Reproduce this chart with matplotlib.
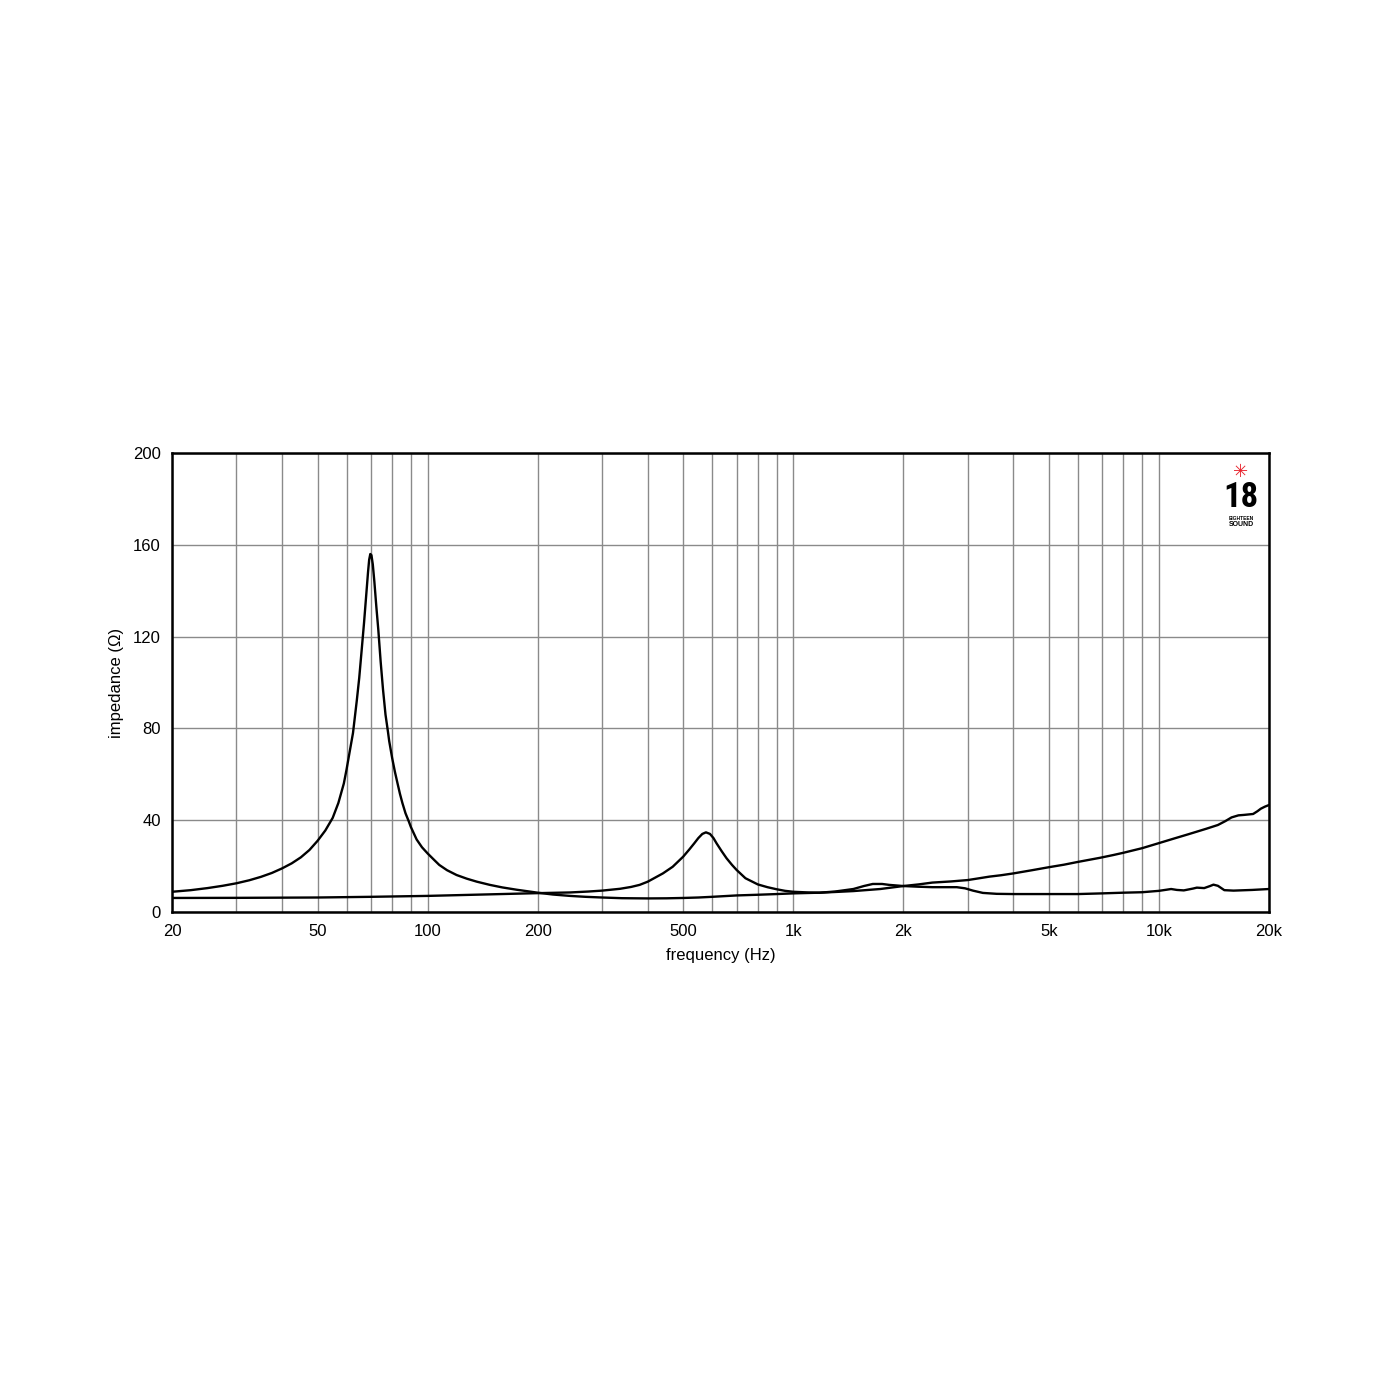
"""Impedance curves, 18 Sound style chart (log frequency axis)."""
import numpy as np
import matplotlib.pyplot as plt
from matplotlib.ticker import FixedLocator, NullFormatter

# curve with the low-frequency resonance (woofer-like)
freq_a = [20, 22.5, 25, 27.5, 30, 32.5, 35, 37.5, 40, 42.5, 45, 47.5, 50,
          52.5, 55, 57, 59, 60, 61, 62.5, 64, 65, 66, 67, 68, 68.7, 69.2,
          69.7, 70.2, 70.8, 71.5, 72.4, 73.3, 74.4, 75.5, 76.7, 77.9, 78.5,
          80, 81.4, 82.8, 84, 85.3, 87, 88.7, 90, 93.3, 96.5, 100, 104,
          107.6, 113, 120, 128, 136.3, 148, 160, 175, 190, 200, 220, 245,
          270, 300, 340, 400, 450, 500, 550, 600, 700, 800, 900, 1000, 1180,
          1300, 1460, 1730, 2000, 2200, 2400, 2700, 3000, 3200, 3440, 3700,
          4000, 4500, 5000, 5500, 6000, 6900, 7500, 8000, 9000, 10000, 11000,
          12000, 12700, 13500, 14500, 15200, 15800, 16500, 17100, 18100,
          18600, 19000, 19500, 20000]
imp_a = [8.8, 9.5, 10.4, 11.4, 12.5, 13.8, 15.3, 17.0, 19.0, 21.2, 23.8, 27.0,
         31.0, 35.5, 41.0, 47.5, 56, 62, 68.5, 78, 92, 102, 114, 126, 139,
         148, 153.5, 156, 155.5, 151.5, 144, 133, 123, 109, 97, 86, 78.5, 74.5,
         67.0, 61.0, 55.8, 51.5, 47.5, 43.0, 39.7, 37.0, 31.6, 28.2, 25.5,
         22.8, 20.5, 18.2, 16.1, 14.5, 13.2, 11.8, 10.7, 9.7, 8.9, 8.4, 7.6,
         7.0, 6.6, 6.3, 6.0, 5.9, 5.95, 6.1, 6.3, 6.6, 7.2, 7.5, 7.8, 8.1,
         8.4, 8.7, 9.1, 10.0, 11.3, 12.0, 12.8, 13.3, 13.9, 14.6, 15.4, 16.0,
         16.8, 18.2, 19.5, 20.6, 21.8, 23.6, 24.8, 25.8, 27.8, 30.0, 32.0,
         33.8, 35.0, 36.3, 37.9, 39.6, 41.2, 42.1, 42.3, 42.7, 43.9, 45.0,
         45.9, 46.6]

# curve with the mid resonance near 580 Hz
freq_b = [20, 30, 50, 70, 100, 150, 200, 245, 275, 300, 336, 360, 380, 400,
          440, 468, 500, 520, 536, 550, 564, 577, 592, 605, 617, 637, 657,
          680, 700, 740, 800, 850, 900, 950, 1000, 1100, 1180, 1300, 1460,
          1560, 1650, 1750, 1830, 2000, 2200, 2400, 2800, 2950, 3100, 3300,
          3600, 4000, 5000, 6000, 7000, 8000, 9000, 10000, 10500, 10800,
          11200, 11700, 12400, 12700, 13300, 13800, 14100, 14500, 15100,
          16000, 18000, 20000]
imp_b = [6.1, 6.15, 6.3, 6.6, 7.0, 7.7, 8.2, 8.5, 8.9, 9.3, 10.1, 10.9, 11.8,
         13.2, 16.8, 19.7, 24.1, 27.3, 29.9, 32.2, 34.0, 34.7, 34.0, 32.2,
         29.9, 26.5, 23.4, 20.5, 18.3, 14.7, 12.0, 10.8, 9.9, 9.2, 8.8, 8.5,
         8.4, 8.9, 10.0, 11.3, 12.2, 12.2, 11.8, 11.3, 11.0, 10.8, 10.8,
         10.3, 9.3, 8.3, 7.9, 7.8, 7.8, 7.8, 8.1, 8.4, 8.6, 9.2, 9.7, 10.0,
         9.6, 9.4, 10.2, 10.6, 10.4, 11.3, 11.9, 11.4, 9.5, 9.3, 9.6, 10.0]

x_ticks = [20, 50, 100, 200, 500, 1000, 2000, 5000, 10000, 20000]
x_labels = ["20", "50", "100", "200", "500", "1k", "2k", "5k", "10k", "20k"]
y_ticks = [0, 40, 80, 120, 160, 200]

plt.rcParams.update({
    "font.family": ["Liberation Sans", "DejaVu Sans"],
    "font.size": 12,
})

fig = plt.figure(figsize=(14, 14), dpi=100)
ax = fig.add_axes([0.1229, 0.3486, 0.7835, 0.3278])

for f, z in ((freq_a, imp_a), (freq_b, imp_b)):
    ax.plot(f, z, color="black", linewidth=1.7, zorder=3,
            solid_joinstyle="round", solid_capstyle="round")

ax.set_xscale("log")
ax.set_xlim(20, 20000)
ax.set_ylim(0, 200)

grid_f = [m * d for d in (10, 100, 1000, 10000) for m in range(1, 10)]
grid_f = [f for f in grid_f if 20 < f < 20000]
ax.xaxis.set_major_locator(FixedLocator(x_ticks))
ax.set_xticklabels(x_labels)
ax.xaxis.set_minor_locator(FixedLocator(grid_f))
ax.xaxis.set_minor_formatter(NullFormatter())
ax.set_yticks(y_ticks)

ax.grid(True, which="both", axis="x", color="#8a8a8a", linewidth=1.0)
ax.grid(True, which="major", axis="y", color="#8a8a8a", linewidth=1.0)
ax.tick_params(axis="both", which="both", length=0, labelsize=12)
ax.tick_params(axis="x", pad=8.5)
ax.tick_params(axis="y", pad=8)
for s in ax.spines.values():
    s.set_linewidth(1.8)

ax.set_xlabel("frequency (Hz)", fontsize=12, labelpad=6.5)
ax.set_ylabel("impedance (\u03a9)", fontsize=12, labelpad=6.5)

# logo
ax.text(0.9745, 0.958, "\u2733", transform=ax.transAxes, ha="center",
        va="center", color="#e8202a", fontsize=13, family="DejaVu Sans")
ax.text(0.9745, 0.903, "18", transform=ax.transAxes, ha="center",
        va="center", fontsize=25, fontweight="bold",
        family=["Roboto Condensed", "Liberation Sans"])
ax.text(0.9745, 0.857, "EIGHTEEN", transform=ax.transAxes, ha="center",
        va="center", fontsize=3.5, fontweight="bold")
ax.text(0.9745, 0.844, "SOUND", transform=ax.transAxes, ha="center",
        va="center", fontsize=5, fontweight="bold")

fig.savefig("out.png", dpi=100, facecolor="white")
